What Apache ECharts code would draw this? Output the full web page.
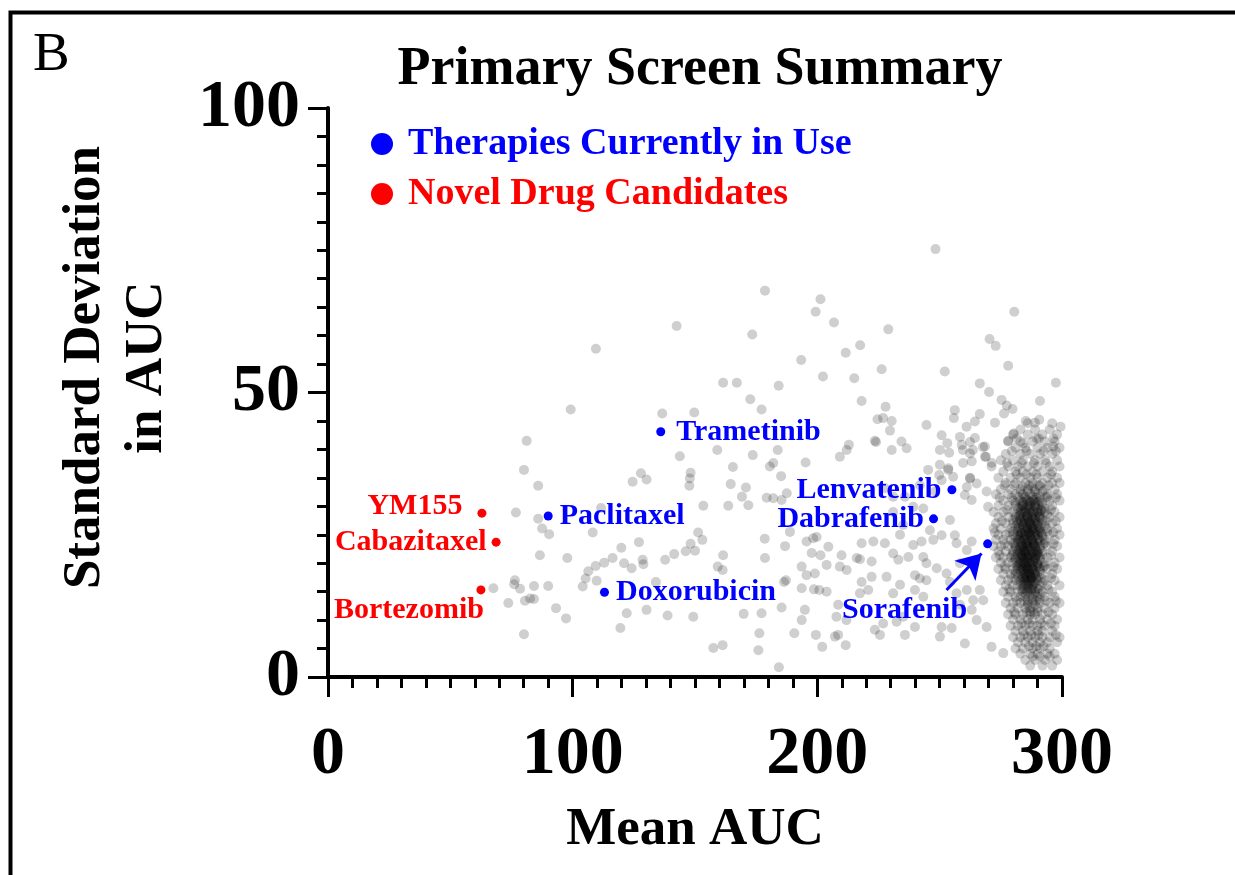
<!DOCTYPE html>
<html>
<head>
<meta charset="utf-8">
<script src="https://cdn.jsdelivr.net/npm/echarts@6/dist/echarts.min.js"></script>
<style>
html,body{margin:0;padding:0;background:#fff;}
#chart{width:1235px;height:875px;}
</style>
</head>
<body>
<div id="chart"></div>
<script>
// ---- DATA ----
const xTicks = [0, 100, 200, 300];
const yTicks = [0, 50, 100];

const therapyNames = ['Trametinib', 'Paclitaxel', 'Doxorubicin', 'Lenvatenib', 'Dabrafenib', 'Sorafenib'];
const therapyMean  = [136, 90, 113, 255, 247.5, 269.6];
const therapySD    = [43.1, 28.3, 14.9, 32.9, 27.8, 23.4];

const novelNames = ['YM155', 'Cabazitaxel', 'Bortezomib'];
const novelMean  = [62.9, 68.7, 62.5];
const novelSD    = [28.8, 23.7, 15.3];

const sorafenibArrow = [[252.8, 15.3], [267.1, 21.7]];

// scattered screened compounds [mean AUC, SD]
const scatteredCompounds = [
[178.6,67.9],[201.3,66.4],[199.3,64.2],[206.8,62.3],[142.5,61.7],[173.4,60.2],[109.5,57.7],[217.5,58.3],[211.6,57.0],[193.4,55.7],
[202.3,52.8],[215.1,52.5],[161.5,51.7],[167.1,51.7],[184.2,51.2],[218.1,48.5],[172.6,48.8],[99.2,47.0],[177.2,47.0],[136.6,46.3],
[149.7,46.5],[81.2,41.5],[212.9,40.8],[212.0,39.9],[209.2,38.7],[159.1,39.9],[183.8,39.9],[173.6,39.0],[143.8,38.8],[195.2,37.7],
[182.0,37.6],[180.6,37.0],[80.1,36.4],[165.5,36.9],[185.2,35.3],[127.9,35.8],[130.2,34.7],[124.5,34.3],[148.2,35.9],[147.9,34.9],
[147.7,33.6],[164.6,33.9],[170.8,33.3],[85.9,33.6],[187.5,32.3],[185.4,31.1],[182.0,31.4],[179.3,31.5],[169.2,31.7],[171.8,30.2],
[163.6,30.1],[153.4,30.1],[76.8,28.9],[111.6,29.7],[85.9,27.8],[87.5,26.1],[90.4,25.1],[108.2,25.4],[151.3,25.4],[153.0,24.1],
[148.2,23.4],[146.2,22.1],[150.0,22.2],[178.5,24.3],[186.8,23.0],[127.1,23.7],[119.9,22.7],[141.5,21.6],[137.8,20.6],[161.5,21.4],
[178.6,20.9],[195.6,23.8],[198.3,24.4],[86.6,21.4],[97.8,20.9],[116.3,20.9],[112.9,20.1],[109.4,19.5],[106.4,18.6],[105.3,17.3],
[109.8,16.9],[104.1,15.9],[121.0,20.0],[124.1,19.1],[128.9,19.8],[128.6,20.6],[159.3,19.4],[161.3,18.8],[134.0,16.7],[76.4,17.0],
[76.1,16.3],[78.5,15.5],[84.2,16.0],[90.0,16.0],[67.6,15.6],[73.7,13.0],[80.5,13.4],[82.6,13.8],[84.2,13.7],[93.2,12.1],
[97.3,10.3],[122.1,11.2],[130.2,11.8],[138.8,10.8],[149.3,10.6],[169.9,11.1],[177.2,11.2],[185.4,12.2],[186.4,16.7],[80.1,7.5],
[119.5,8.6],[176.3,7.7],[157.5,5.1],[161.3,5.6],[175.9,4.7],[184.3,1.7],[204.5,22.9],[201.3,21.4],[197.7,21.8],[209.9,21.4],
[216.1,20.9],[193.6,15.6],[198.6,15.4],[200.8,15.3],[203.8,15.0],[190.6,7.7],[199.4,7.4],[208.5,7.4],[211.6,5.6],[202.0,5.3],
[193.6,10.0],[194.9,11.8],[224.0,41.3],[224.6,45.3],
[248.3,75.2],[229.0,61.1],[280.5,64.2],[270.4,59.4],[272.9,58.2],
[226.3,54.1],[252.1,53.7],[278.0,54.7],[297.5,51.7],[266.4,51.6],[270.2,50.1],[291.0,48.5],[275.3,48.7],[277.4,47.7],[279.8,47.1],
[276.3,46.3],[227.9,47.5],[226.9,45.5],[230.4,45.0],[229.7,43.3],[261.0,44.0],[264.4,44.9],[266.4,46.2],[272.6,44.7],[285.2,45.0],
[288.9,44.7],[290.7,45.2],[299.4,44.0],[278.0,41.5],[280.3,42.8],[223.5,41.5],[230.4,39.9],[234.4,41.4],[236.5,40.2],[250.8,42.5],
[253.1,41.1],[253.9,39.4],[250.1,39.9],[258.3,42.2],[262.4,41.3],[264.4,42.0],[259.5,39.9],[263.6,39.9],[267.7,40.4],[268.9,38.7],
[271.3,37.6],[253.5,36.7],[255.5,35.2],[249.8,35.5],[262.4,35.0],[261.1,33.4],
[244.6,44.3],[256.2,46.9],[255.8,45.5],[259.0,40.8],[262.4,39.3],[263.1,37.9],[268.5,40.5],[268.5,38.7],[271.2,37.0],[250.1,37.3],
[245.3,36.4],[253.5,36.4],[259.6,37.6],[262.4,34.9],[265.1,34.0],[227.6,33.2],[231.0,31.7],[235.8,31.7],[241.9,33.7],[248.1,32.6],
[250.8,34.6],[260.3,32.0],[263.1,31.1],[269.2,32.6],[269.8,29.9],[239.2,29.9],[243.3,29.6],[231.0,29.0],[246.0,25.8],[247.4,24.1],
[250.8,24.9],[254.2,27.6],[256.2,24.9],[256.9,23.5],[235.1,26.7],[233.8,25.0],[239.2,23.2],[242.6,23.8],[227.6,23.5],[231.0,21.7],
[233.1,20.6],[237.2,21.1],[243.3,21.1],[244.6,20.0],[248.8,19.1],[252.8,18.2],[254.2,16.7],[258.3,20.0],[261.1,22.3],[263.1,23.8],
[228.3,17.6],[233.8,16.2],[231.0,14.7],[239.9,15.3],[243.3,14.1],[241.9,17.3],[256.9,14.7],[261.1,15.3],[263.7,13.5],[258.3,12.7],
[263.1,11.8],[266.4,15.3],[267.8,13.5],[265.1,10.0],[269.2,8.8],[235.1,10.6],[235.8,7.4],[239.9,8.8],[250.8,8.8],[254.9,8.6],
[250.1,7.1],[260.3,5.9],[271.2,5.3],[276.0,4.2],[225.6,7.4],
[188.8,25.5],[199.7,24.6],[203.8,19.7],[193.6,19.4],[195.6,17.9],[199.0,18.2],[209.2,19.4],[212.0,18.8],[217.4,20.7],[222.2,20.3],
[218.1,23.5],[222.9,23.8],[218.1,16.7],[222.2,17.6],[220.8,15.3],[217.4,14.7],[208.5,12.7],[207.8,10.6],[211.9,10.0],[187.2,17.0],
[239.9,17.9],[244.6,17.0],[223.5,8.3],[226.9,9.4],[232.4,9.7],[207.2,7.1],[289.6,41.9],[284.2,41.1],[296.4,40.5]
];

// dense cluster of inactive compounds, read row by row: [SD, [mean AUC values]]
const clusterRows = [
[43.5,[283,289,295]],
[42.6,[280,286,292,298]],
[41.4,[278,283,288,293,297]],
[40.3,[281,285,290,294,299]],
[39.2,[277,283,287,291,296]],
[38.1,[275,280,284,289,293,298]],
[37.0,[278,282,286,290,295,299]],
[36.1,[276,281,284,288,292,296]],
[35.0,[274,279,283,287,290,294,298]],
[34.1,[277,281,285,288,292,296,299]],
[33.0,[275,279,283,286,289,293,297]],
[32.1,[273,278,281,284,287,290,294,298]],
[31.0,[276,280,283,286,288,291,295,299]],
[30.1,[274,278,281,284,287,289,292,296]],
[29.0,[272,276,280,283,285,288,290,293,297]],
[28.1,[274,278,281,284,286,289,291,295,299]],
[27.0,[273,277,280,282,285,287,290,292,296]],
[26.1,[272,275,279,282,284,286,288,291,294,298]],
[25.0,[274,277,280,283,285,287,289,292,295,299]],
[24.1,[273,276,279,282,284,286,288,290,293,297]],
[23.0,[272,275,278,281,283,285,287,289,291,294,298]],
[22.1,[274,277,280,282,284,286,288,290,292,296]],
[21.0,[273,276,279,281,283,285,287,289,291,294,299]],
[20.1,[275,278,280,282,284,286,288,290,293,297]],
[19.0,[274,277,280,282,284,286,288,291,294,298]],
[18.1,[276,279,281,283,285,287,289,292,296]],
[17.0,[275,278,281,283,285,287,290,293,297]],
[16.1,[277,280,282,284,286,288,291,294,299]],
[15.0,[276,279,282,284,286,289,292,296]],
[14.1,[278,281,283,285,288,290,293,297]],
[13.0,[277,280,283,286,288,291,295,299]],
[12.1,[279,282,285,287,290,293,297]],
[11.0,[278,281,284,287,289,292,296]],
[10.1,[280,283,286,288,291,294,298]],
[9.0,[279,282,285,288,290,293,297]],
[8.1,[281,284,287,290,292,296]],
[7.0,[280,283,286,289,292,295,299]],
[6.1,[282,285,288,291,294,298]],
[5.0,[281,284,288,291,295]],
[4.1,[283,287,290,294,297]],
[3.0,[285,289,293,298]],
[2.0,[287,292,296]],
[44.6,[286,296]],
[41.9,[281.5,290.5,296.5]],
[39.7,[279.5,285.5,292.5,297.5]],
[37.6,[277.5,283.5,288.5,293.5]],
[35.6,[281.5,285.5,289.5,295.5]],
[33.7,[276.5,280.5,286.5,290.5,294.5]],
[31.5,[274.5,279.5,284.5,289.5,293.5,297.5]],
[29.4,[277.5,283.5,286.5,291.5,295.5]],
[27.4,[275.5,281.5,284.5,288.5,293.5,297.5]],
[25.4,[272.5,278.5,283.5,286.5,290.5,296.5]],
[23.4,[276.5,280.5,285.5,288.5,292.5,296.5]],
[21.4,[274.5,279.5,283.5,286.5,289.5,295.5]],
[19.4,[276.5,281.5,285.5,289.5,292.5,296.5]],
[17.4,[279.5,284.5,287.5,291.5,295.5]],
[15.4,[278.5,283.5,287.5,290.5,294.5]],
[13.4,[281.5,284.5,289.5,293.5,297.5]],
[11.4,[280.5,285.5,288.5,294.5]],
[9.4,[283.5,286.5,291.5,295.5]],
[7.4,[284.5,287.5,290.5,297.5]],
[5.4,[286.5,289.5,292.5]],
[3.6,[288,291,295]],
// denser core
[33.5,[284,288,291]],
[32.6,[283,286,289,292]],
[31.7,[282,285,288,291,294]],
[30.6,[281,284,287,289,292]],
[29.6,[282,285,287,290,293]],
[28.6,[281,283,286,288,291,294]],
[27.6,[280,283,285,287,289,292]],
[26.6,[281,284,286,288,290,293]],
[25.6,[280,282,285,287,289,291,294]],
[24.6,[281,283,285,287,289,292]],
[23.6,[280,282,284,286,288,290,293]],
[22.6,[281,283,285,287,289,291]],
[21.6,[280,282,284,286,288,290,292]],
[20.6,[281,283,285,287,289,291]],
[19.6,[282,284,286,288,290,293]],
[18.6,[281,283,285,287,289,291]],
[17.6,[282,284,286,288,290]],
[16.6,[283,285,287,289,292]],
[15.6,[284,286,288,290]],
[14.6,[285,287,289,291]],
[13.6,[286,288,291]],
[12.6,[286,289]],
[11.5,[287,290]],
[31.2,[285.5,288.5]],
[30.2,[283.5,286.5,290.5]],
[29.2,[284.5,288.5,291.5]],
[28.3,[282.5,285.5,287.5,290.5]],
[27.3,[283.5,286.5,289.5]],
[26.3,[282.5,285.5,287.5,290.5]],
[25.3,[283.5,286.5,288.5,291.5]],
[24.3,[282.5,284.5,287.5,290.5]],
[23.3,[283.5,285.5,288.5]],
[22.3,[282.5,284.5,286.5,289.5]],
[21.3,[283.5,285.5,287.5,290.5]],
[20.3,[282.5,284.5,286.5,288.5]],
[19.3,[283.5,285.5,287.5,290.5]],
[18.3,[284.5,286.5,288.5]],
[17.3,[283.5,285.5,287.5,289.5]],
[16.3,[284.5,286.5,288.5]],
[15.3,[285.5,287.5]],
[30.8,[284,287,290]],
[29.9,[283,286,289]],
[28.9,[284,287,290]],
[27.9,[283,286,288,291]],
[26.9,[284,287,289]],
[25.9,[283,286,288,290]],
[24.9,[282,285,287,290]],
[23.9,[283,286,288,291]],
[22.9,[284,286,289]],
[21.9,[283,285,288,290]],
[20.9,[284,286,289]],
[19.9,[283,285,287,290]],
[18.9,[284,286,288]],
[17.9,[285,287,289]],
[16.9,[286,288]]
];

// ---- BUILD ----
const clusterCompounds = [];
clusterRows.forEach(r => r[1].forEach(x => clusterCompounds.push([x, r[0]])));

const FONT = '"Liberation Serif", "Times New Roman", serif';
const BLUE = '#0000ff';
const RED = '#ff0000';

const labelPlacement = {
  'Trametinib':  {position: 'right', distance: 11},
  'Paclitaxel':  {position: 'right', distance: 7},
  'Doxorubicin': {position: 'right', distance: 7},
  'Lenvatenib':  {position: 'left', distance: 6},
  'Dabrafenib':  {position: 'left', distance: 5},
  'Sorafenib':   {position: 'inside', offset: [-83, 66]},
  'YM155':       {position: 'left', distance: 15, offset: [0, -7]},
  'Cabazitaxel': {position: 'left', distance: 5},
  'Bortezomib':  {position: 'inside', offset: [-72, 20]}
};

function labeled(names, xs, ys, color) {
  return names.map((n, i) => ({
    name: n,
    value: [xs[i], ys[i]],
    label: Object.assign({show: true, formatter: n, color: color, fontFamily: FONT,
      fontWeight: 'bold', fontSize: 30}, labelPlacement[n])
  }));
}

const chart = echarts.init(document.getElementById('chart'), null, {renderer: 'canvas'});
const axisCommon = {
  axisLine: {show: true, lineStyle: {color: '#000', width: 4}},
  axisTick: {show: true, length: 20, lineStyle: {color: '#000', width: 3}},
  minorTick: {show: true, splitNumber: 10, length: 11, lineStyle: {color: '#000', width: 3}},
  splitLine: {show: false},
  minorSplitLine: {show: false},
  axisLabel: {color: '#000', fontFamily: FONT, fontWeight: 'bold', fontSize: 68},
  nameTextStyle: {color: '#000', fontFamily: FONT, fontWeight: 'bold', fontSize: 53, lineHeight: 62}
};

chart.setOption({
  animation: false,
  backgroundColor: '#fff',
  title: {
    text: 'Primary Screen Summary',
    left: 695, top: 38, textAlign: 'center',
    textStyle: {fontFamily: FONT, fontWeight: 'bold', fontSize: 54, color: '#000'}
  },
  legend: {
    orient: 'vertical', left: 366, top: 120, itemGap: 12,
    icon: 'circle', itemWidth: 22, itemHeight: 22,
    itemStyle: {opacity: 1},
    data: [
      {name: 'Therapies Currently in Use', textStyle: {color: BLUE}},
      {name: 'Novel Drug Candidates', textStyle: {color: RED}}
    ],
    textStyle: {fontFamily: FONT, fontWeight: 'bold', fontSize: 38, padding: [0, 0, 0, 10]}
  },
  grid: {left: 328, right: 173, top: 108, bottom: 198, containLabel: false},
  xAxis: Object.assign({}, axisCommon, {
    type: 'value', min: xTicks[0], max: xTicks[xTicks.length - 1], interval: 100,
    name: 'Mean AUC', nameLocation: 'middle', nameGap: 122,
    axisLabel: Object.assign({}, axisCommon.axisLabel, {margin: 44})
  }),
  yAxis: Object.assign({}, axisCommon, {
    type: 'value', min: yTicks[0], max: yTicks[yTicks.length - 1], interval: 50,
    name: 'Standard Deviation\nin AUC', nameLocation: 'middle', nameGap: 150,
    nameTextStyle: Object.assign({}, axisCommon.nameTextStyle, {padding: [0, 0, 0, 50]}),
    axisLabel: Object.assign({}, axisCommon.axisLabel, {margin: 28})
  }),
  series: [
    {
      name: 'Screened', type: 'scatter', silent: true, z: 1,
      symbol: 'circle', symbolSize: 10,
      itemStyle: {color: 'rgba(0,0,0,0.19)', opacity: 1},
      data: scatteredCompounds.concat(clusterCompounds)
    },
    {
      name: 'Therapies Currently in Use', type: 'scatter', z: 5,
      symbol: 'circle', symbolSize: 9, itemStyle: {color: BLUE, opacity: 1},
      data: labeled(therapyNames, therapyMean, therapySD, BLUE),
      markLine: {
        silent: true, symbol: ['none', 'arrow'], symbolSize: [22, 24],
        lineStyle: {color: BLUE, width: 3, type: 'solid', opacity: 1},
        label: {show: false},
        data: [[{coord: sorafenibArrow[0]}, {coord: sorafenibArrow[1]}]]
      }
    },
    {
      name: 'Novel Drug Candidates', type: 'scatter', z: 5,
      symbol: 'circle', symbolSize: 9, itemStyle: {color: RED, opacity: 1},
      data: labeled(novelNames, novelMean, novelSD, RED)
    }
  ],
  graphic: [
    {type: 'polyline', shape: {points: [[10.5, 875], [10.5, 12.5], [1235, 12.5]]},
     style: {stroke: '#000', lineWidth: 4, fill: null}, z: 10},
    {type: 'text', left: 33, top: 28,
     style: {text: 'B', font: '55px ' + FONT, fill: '#000'}}
  ]
});
</script>
</body>
</html>
